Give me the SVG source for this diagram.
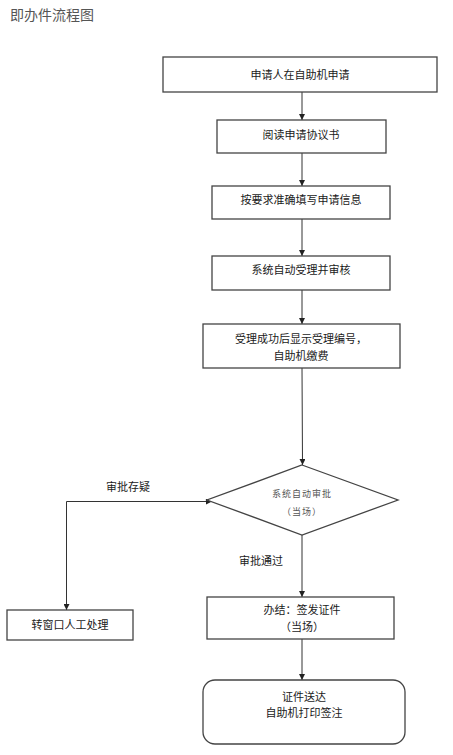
<svg xmlns="http://www.w3.org/2000/svg" width="453" height="755" viewBox="0 0 453 755">
<defs>
<style>
.box{fill:#fff;stroke:#444;stroke-width:1.3}
.t{font-family:"Noto Sans CJK SC","Liberation Sans",sans-serif;font-size:11px;fill:#1a1a1a;text-anchor:middle}
.s{font-family:"Noto Sans CJK SC","Liberation Sans",sans-serif;font-size:9px;fill:#555;text-anchor:middle;letter-spacing:1px}
.lbl{font-family:"Noto Sans CJK SC","Liberation Sans",sans-serif;font-size:11px;fill:#1a1a1a}
.title{font-family:"Noto Sans CJK SC","Liberation Sans",sans-serif;font-size:14px;fill:#555}
.c{fill:none;stroke:#333;stroke-width:1;marker-end:url(#ah)}
</style>
<marker id="ah" viewBox="0 0 6 6" refX="6" refY="3" markerWidth="6" markerHeight="6" markerUnits="userSpaceOnUse" orient="auto">
<path d="M0,0 L6,3 L0,6 z" fill="#222"/>
</marker>
<marker id="ahs" viewBox="0 0 6 6" refX="0" refY="3" markerWidth="6" markerHeight="6" markerUnits="userSpaceOnUse" orient="auto-start-reverse">
<path d="M0,0 L6,3 L0,6 z" fill="#222"/>
</marker>
</defs>
<rect width="453" height="755" fill="#fff"/>
<text class="title" x="10" y="20">即办件流程图</text>

<g id="connectors">
<line class="c" x1="302" y1="92" x2="302" y2="120"/>
<line class="c" x1="302" y1="153" x2="302" y2="186"/>
<line class="c" x1="302" y1="219" x2="302" y2="256"/>
<line class="c" x1="302" y1="290" x2="302" y2="324"/>
<line class="c" x1="302" y1="368" x2="302.5" y2="465"/>
<path class="c" d="M206,501.5 H66.5 V610" marker-start="url(#ahs)"/>
<line class="c" x1="302" y1="535" x2="302" y2="597"/>
<line class="c" x1="302" y1="639" x2="302" y2="680"/>
<text class="lbl" x="106" y="491">审批存疑</text>
<text class="lbl" x="239" y="565">审批通过</text>
</g>

<g id="n1">
<rect class="box" x="163" y="57" width="274" height="35"/>
<text class="t" x="300" y="79">申请人在自助机申请</text>
</g>
<g id="n2">
<rect class="box" x="217" y="120" width="169" height="33"/>
<text class="t" x="301" y="139">阅读申请协议书</text>
</g>
<g id="n3">
<rect class="box" x="212" y="186" width="178" height="33"/>
<text class="t" x="301" y="204">按要求准确填写申请信息</text>
</g>
<g id="n4">
<rect class="box" x="212" y="256" width="178" height="34"/>
<text class="t" x="301" y="274">系统自动受理并审核</text>
</g>
<g id="n5">
<rect class="box" x="203" y="324" width="197" height="44"/>
<text class="t" x="301" y="343">受理成功后显示受理编号，</text>
<text class="t" x="301" y="360">自助机缴费</text>
</g>
<g id="n6">
<polygon class="box" points="302,465 398,500 302,535 207,500"/>
<text class="s" x="302" y="497">系统自动审批</text>
<text class="s" x="302" y="515">（当场）</text>
</g>
<g id="n7">
<rect class="box" x="7" y="610" width="126" height="30"/>
<text class="t" x="70" y="629">转窗口人工处理</text>
</g>
<g id="n8">
<rect class="box" x="207" y="597" width="187" height="42"/>
<text class="t" x="302" y="614">办结：签发证件</text>
<text class="t" x="302" y="631">（当场）</text>
</g>
<g id="n9">
<rect class="box" x="203" y="680" width="202" height="64" rx="12" ry="12"/>
<text class="t" x="304" y="701">证件送达</text>
<text class="t" x="304" y="717">自助机打印签注</text>
</g>
</svg>
